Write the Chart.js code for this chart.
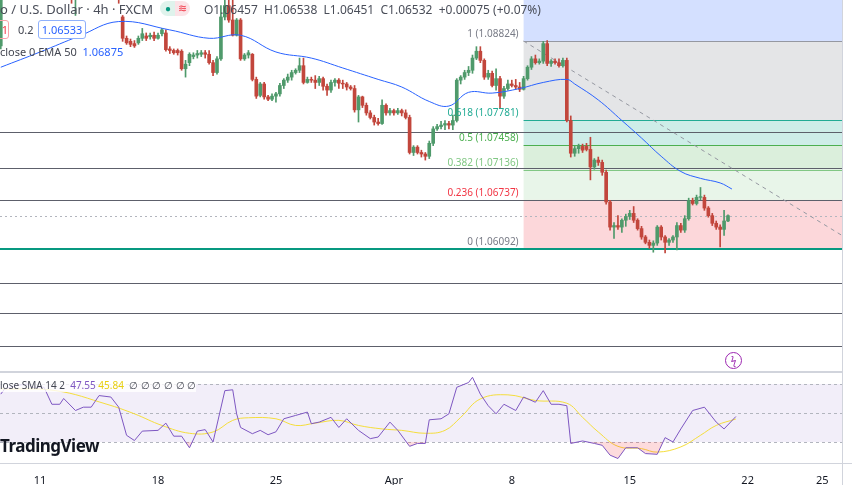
<!DOCTYPE html>
<html>
<head>
<meta charset="utf-8">
<script src="https://cdn.jsdelivr.net/npm/chart.js@4"></script>
<style>
  body { margin: 0; background: #fff; font-family: "Noto Sans", Roboto, sans-serif; }
  #wrap { position: relative; width: 852px; height: 485px; overflow: hidden; }
  .t { position: absolute; white-space: nowrap; font-size: 12px; color: #434651; }
</style>
</head>
<body>
<div id="wrap">
  <canvas id="chart" width="852" height="485"></canvas>
  <div class="t" style="left:0;top:0;font-size:13px;color:#4a4e59">o / U.S. Dollar · 4h · FXCM</div>
  <div class="t" style="left:160;top:1px;left:160px;width:30px;height:15px;border-radius:8px;background:linear-gradient(90deg,#dff3ec 50%,#fbe3e7 50%)"></div>
  <div class="t" style="left:165px;top:1px;color:#089981;font-size:10px">●</div>
  <div class="t" style="left:178px;top:0;color:#f23645;font-size:11px">≋</div>
  <div class="t" style="left:204px;top:1px;color:#4a4e59">O1.06457 &nbsp;H1.06538 &nbsp;L1.06451 &nbsp;C1.06532 &nbsp;+0.00075 (+0.07%)</div>
  <div class="t" style="left:-6px;top:20px;width:13px;height:17px;border:1px solid #f7a3a9;border-radius:3px;color:#f23645;text-align:right;font-size:11px;line-height:17px">1</div>
  <div class="t" style="left:18px;top:22px;font-size:11px">0.2</div>
  <div class="t" style="left:38px;top:20px;width:46px;height:17px;border:1px solid #8fb0fb;border-radius:3px;color:#2962ff;text-align:center;font-size:11px;line-height:17px;background:#fff">1.06533</div>
  <div class="t" style="left:0;top:44px;font-size:11px">close 0 EMA 50 &nbsp;<span style="color:#2962ff">1.06875</span></div>
  <div class="t" style="left:0;top:378px;font-size:10px;background:rgba(255,255,255,0.8)">lose SMA 14 2 &nbsp;<span style="color:#7e57c2">47.55</span> <span style="color:#e8cf10">45.84</span> &nbsp;∅ ∅ ∅ ∅ ∅ ∅</div>
  <div class="t" style="left:0;top:434px;font-size:17px;font-weight:bold;color:#131722;letter-spacing:-0.5px">TradingView</div>
  <div class="t" style="left:725px;top:352px;width:15px;height:15px;border:1.5px solid #9c27b0;border-radius:50%;color:#9c27b0;font-size:10px;text-align:center;line-height:15px">ϟ</div>
</div>
<script>
// 4h EUR/USD candles, index 0 = Mon 11 Mar 00:00, 30 candles per week
const firstIdx = -10;
const opens = [1.0876,1.0943,1.0962,1.0956,1.0969,1.0965,1.0975,1.0973,1.0982,1.0975,
  1.0969,1.0960,1.0965,1.0956,1.0949,1.0960,1.0954,1.0947,1.0952,1.0943,
  1.0949,1.0956,1.0962,1.0969,1.0965,1.0973,1.0968,1.0962,1.0956,1.0949,
  1.0940,1.0914,1.0886,1.0882,1.0879,1.0880,1.0886,1.0889,1.0888,1.0890,
  1.0886,1.0892,1.0893,1.0872,1.0870,1.0870,1.0869,1.0846,1.0854,1.0862,
  1.0864,1.0865,1.0867,1.0865,1.0854,1.0841,1.0859,1.0914,1.0929,1.0910,
  1.0890,1.0910,1.0859,1.0864,1.0865,1.0832,1.0811,1.0826,1.0809,1.0806,
  1.0810,1.0813,1.0824,1.0831,1.0835,1.0841,1.0844,1.0850,1.0828,1.0832,
  1.0831,1.0828,1.0833,1.0823,1.0818,1.0828,1.0831,1.0827,1.0826,1.0822,
  1.0820,1.0792,1.0809,1.0798,1.0788,1.0782,1.0776,1.0774,1.0798,1.0788,
  1.0791,1.0788,1.0791,1.0788,1.0782,1.0736,1.0743,1.0736,1.0734,1.0731,
  1.0748,1.0767,1.0770,1.0772,1.0774,1.0772,1.0778,1.0831,1.0835,1.0841,
  1.0844,1.0860,1.0869,1.0857,1.0835,1.0840,1.0824,1.0833,1.0810,1.0820,
  1.0826,1.0824,1.0822,1.0819,1.0833,1.0848,1.0859,1.0854,1.0856,1.0879,
  1.0853,1.0856,1.0854,1.0850,1.0857,1.0778,1.0735,1.0741,1.0744,1.0744,
  1.0740,1.0717,1.0726,1.0723,1.0710,1.0671,1.0638,1.0640,1.0638,1.0647,
  1.0652,1.0656,1.0647,1.0636,1.0625,1.0618,1.0614,1.0617,1.0638,1.0625,
  1.0618,1.0621,1.0625,1.0640,1.0634,1.0649,1.0673,1.0669,1.0677,1.0677,
  1.0663,1.0653,1.0643,1.0638,1.0635,1.0646];
const highs = [1.0949,1.0969,1.0973,1.0975,1.0978,1.0982,1.0986,1.0989,1.0991,1.0982,
  1.0975,1.0973,1.0970,1.0962,1.0965,1.0968,1.0960,1.0956,1.0957,1.0954,
  1.0962,1.0969,1.0975,1.0978,1.0982,1.0981,1.0975,1.0970,1.0962,1.0956,
  1.0944,1.0916,1.0889,1.0885,1.0883,1.0889,1.0899,1.0893,1.0893,1.0894,
  1.0893,1.0899,1.0897,1.0875,1.0872,1.0872,1.0871,1.0857,1.0867,1.0867,
  1.0870,1.0870,1.0870,1.0870,1.0857,1.0862,1.0929,1.0943,1.0947,1.0936,
  1.0912,1.0912,1.0866,1.0870,1.0866,1.0835,1.0828,1.0828,1.0811,1.0813,
  1.0815,1.0827,1.0833,1.0839,1.0844,1.0846,1.0860,1.0860,1.0835,1.0835,
  1.0837,1.0836,1.0835,1.0826,1.0831,1.0833,1.0833,1.0831,1.0828,1.0824,
  1.0824,1.0811,1.0810,1.0801,1.0791,1.0785,1.0781,1.0805,1.0800,1.0794,
  1.0793,1.0794,1.0793,1.0792,1.0785,1.0745,1.0745,1.0739,1.0736,1.0751,
  1.0770,1.0773,1.0777,1.0778,1.0777,1.0785,1.0833,1.0837,1.0844,1.0849,
  1.0864,1.0875,1.0875,1.0859,1.0844,1.0843,1.0846,1.0836,1.0823,1.0831,
  1.0831,1.0832,1.0828,1.0836,1.0850,1.0862,1.0864,1.0859,1.0882,1.0883,
  1.0858,1.0859,1.0859,1.0860,1.0860,1.0784,1.0744,1.0747,1.0747,1.0748,
  1.0756,1.0728,1.0730,1.0726,1.0713,1.0673,1.0644,1.0653,1.0649,1.0655,
  1.0660,1.0665,1.0649,1.0639,1.0627,1.0621,1.0620,1.0640,1.0640,1.0627,
  1.0623,1.0627,1.0644,1.0643,1.0653,1.0676,1.0676,1.0680,1.0690,1.0680,
  1.0665,1.0656,1.0646,1.0641,1.0660,1.0654];
const lows = [1.0872,1.0939,1.0949,1.0949,1.0956,1.0960,1.0965,1.0969,1.0969,1.0962,
  1.0949,1.0952,1.0947,1.0941,1.0940,1.0947,1.0939,1.0937,1.0932,1.0916,
  1.0939,1.0947,1.0952,1.0956,1.0957,1.0960,1.0952,1.0947,1.0941,1.0939,
  1.0932,1.0882,1.0878,1.0875,1.0874,1.0878,1.0883,1.0883,1.0885,1.0883,
  1.0885,1.0889,1.0869,1.0866,1.0865,1.0864,1.0844,1.0835,1.0850,1.0859,
  1.0860,1.0862,1.0860,1.0852,1.0837,1.0839,1.0857,1.0910,1.0907,1.0889,
  1.0889,1.0857,1.0857,1.0860,1.0830,1.0807,1.0809,1.0806,1.0804,1.0804,
  1.0802,1.0810,1.0820,1.0828,1.0831,1.0839,1.0841,1.0826,1.0827,1.0828,
  1.0820,1.0824,1.0818,1.0811,1.0815,1.0823,1.0820,1.0820,1.0818,1.0818,
  1.0789,1.0776,1.0795,1.0785,1.0780,1.0772,1.0772,1.0773,1.0785,1.0785,
  1.0785,1.0786,1.0784,1.0780,1.0734,1.0732,1.0734,1.0730,1.0726,1.0728,
  1.0745,1.0765,1.0767,1.0766,1.0767,1.0766,1.0776,1.0826,1.0832,1.0837,
  1.0840,1.0858,1.0854,1.0832,1.0832,1.0822,1.0818,1.0794,1.0807,1.0818,
  1.0822,1.0819,1.0816,1.0818,1.0831,1.0845,1.0852,1.0852,1.0853,1.0850,
  1.0849,1.0852,1.0848,1.0848,1.0776,1.0730,1.0731,1.0735,1.0736,1.0738,
  1.0700,1.0714,1.0719,1.0706,1.0668,1.0634,1.0623,1.0635,1.0631,1.0639,
  1.0648,1.0644,1.0634,1.0622,1.0616,1.0610,1.0605,1.0614,1.0621,1.0604,
  1.0614,1.0618,1.0608,1.0631,1.0631,1.0647,1.0667,1.0667,1.0674,1.0660,
  1.0651,1.0640,1.0635,1.0612,1.0627,1.0645];
const closes = [1.0943,1.0962,1.0956,1.0969,1.0965,1.0975,1.0973,1.0982,1.0975,1.0969,
  1.0960,1.0965,1.0956,1.0949,1.0960,1.0954,1.0947,1.0952,1.0943,1.0949,
  1.0956,1.0962,1.0969,1.0965,1.0973,1.0968,1.0962,1.0956,1.0949,1.0947,
  1.0937,1.0886,1.0880,1.0878,1.0876,1.0886,1.0892,1.0886,1.0890,1.0886,
  1.0890,1.0897,1.0871,1.0870,1.0867,1.0867,1.0846,1.0852,1.0865,1.0864,
  1.0866,1.0867,1.0865,1.0854,1.0841,1.0859,1.0914,1.0929,1.0910,1.0890,
  1.0910,1.0859,1.0864,1.0867,1.0832,1.0810,1.0826,1.0809,1.0806,1.0810,
  1.0813,1.0824,1.0831,1.0835,1.0841,1.0844,1.0850,1.0828,1.0832,1.0831,
  1.0828,1.0833,1.0823,1.0818,1.0828,1.0831,1.0827,1.0826,1.0822,1.0820,
  1.0792,1.0809,1.0798,1.0788,1.0782,1.0776,1.0774,1.0798,1.0788,1.0791,
  1.0788,1.0791,1.0788,1.0782,1.0736,1.0743,1.0736,1.0734,1.0731,1.0748,
  1.0767,1.0770,1.0772,1.0774,1.0772,1.0778,1.0831,1.0835,1.0841,1.0844,
  1.0860,1.0869,1.0857,1.0835,1.0840,1.0824,1.0833,1.0810,1.0820,1.0826,
  1.0824,1.0822,1.0819,1.0833,1.0848,1.0859,1.0854,1.0856,1.0879,1.0853,
  1.0856,1.0854,1.0850,1.0857,1.0778,1.0735,1.0741,1.0744,1.0739,1.0740,
  1.0717,1.0726,1.0723,1.0710,1.0671,1.0638,1.0640,1.0638,1.0647,1.0652,
  1.0656,1.0647,1.0636,1.0625,1.0618,1.0614,1.0617,1.0638,1.0625,1.0618,
  1.0621,1.0625,1.0640,1.0634,1.0649,1.0673,1.0669,1.0677,1.0678,1.0663,
  1.0653,1.0643,1.0638,1.0635,1.0646,1.0653];

const emaIdx = [-10, 0, 10, 20, 33, 43, 51, 60, 69, 77, 86, 92, 99, 104, 109, 115, 122, 128, 134, 136, 142, 148, 153, 158, 163, 168, 173, 176];
const emaVals = [1.0848, 1.0868, 1.0889, 1.0908, 1.0897, 1.0886, 1.0890, 1.0868, 1.0860, 1.0847, 1.0832, 1.0822, 1.0803, 1.0797, 1.0815, 1.0814, 1.0820, 1.0828, 1.0832, 1.0826, 1.0805, 1.0778, 1.0755, 1.0731, 1.0711, 1.0702, 1.0696, 1.0688];

const rsiIdx = [-10,-9,-6,-3,-2,1,3,5,6,9,11,13,15,18,20,22,24,26,30,32,34,36,38,40,42,44,47,49,50,51,54,56,58,60,62,65,68,69,71,74,76,78,81,84,86,89,91,94,96,98,99,102,104,106,109,110,112,114,116,118,121,123,126,128,130,132,134,135,138,141,143,145,147,149,152,154,157,159,161,163,166,169,172,174,177];
const rsiVals = [63,66.6,69,70,67.7,67.7,56,56,60,51.7,54,54,62,61,54,34.6,31,37.5,38,43,34,34,26,37.5,38.5,30,65.4,66,49.4,40,35.7,38,35,37,46,48.3,50.6,42.6,43.7,47,40,46,38,32.3,33.4,43.7,38,27,29,29,45.3,46,49.4,67.7,71,74.6,63,55,49.4,56,51.7,61,57.4,65.4,56,56,55,29,30.7,29,27.7,20.9,18.6,26,26,22,21.5,33,30,39,51.7,54,43.7,39,47.55];
const smaIdx = [-10, 4, 17, 24, 31, 38, 44, 49, 53, 60, 65, 70, 76, 81, 87, 92, 98, 103, 107, 112, 119, 126, 134, 138, 142, 147, 153, 157, 163, 168, 172, 177];
const smaVals = [66.6, 65.4, 56, 49.4, 41.4, 36, 36.9, 44.9, 46.7, 46, 41.4, 43, 44.9, 41.4, 39, 38, 36, 38, 47, 59.7, 62.5, 58.6, 56.7, 47, 36.9, 27, 25.4, 23, 26.6, 34.6, 41.4, 45.84];

const tickIdx = [0, 30, 60, 90, 120, 150, 180, 199];
const tickLabels = ['11', '18', '25', 'Apr', '8', '15', '22', '25'];

const fibStartIdx = 123;
const fibRatios = ['1', '0.618', '0.5', '0.382', '0.236', '0'];
const fibPrices = [1.08824, 1.07781, 1.07458, 1.07136, 1.06737, 1.06092];
const trendIdx = [123, 204];
const trendVals = [1.08824, 1.0627];
const hLevels = [1.0763, 1.0716, 1.0673, 1.0565, 1.0525, 1.0482];
const lastPrice = 1.0653;

const UP = '#4f9a6b', DOWN = '#c2463c';
const candleCol = closes.map((c, i) => (c >= opens[i] ? UP : DOWN));
const bodies = opens.map((o, i) => ({ x: firstIdx + i, y: [o, closes[i] === o ? o + 0.00003 : closes[i]] }));
const wicks = lows.map((l, i) => ({ x: firstIdx + i, y: [l, highs[i]] }));

const fibLine = ['#9598a1', '#22ab94', '#4caf50', '#81c784', '#f23645', '#089981'];
const fibFill = ['rgba(120,123,134,0.2)', 'rgba(34,171,148,0.22)', 'rgba(76,175,80,0.2)', 'rgba(129,199,132,0.18)', 'rgba(242,54,69,0.2)'];
const fibText = ['#787b86', '#22ab94', '#4caf50', '#81c784', '#f23645', '#787b86'];

const panes = {
  id: 'panes',
  beforeDatasetsDraw(chart) {
    const { ctx, chartArea: a, scales } = chart;
    const x = scales.x, y = scales.y, r = scales.yRsi;
    const sep = r.getPixelForValue(78.3);
    ctx.save();
    // fib zones
    const xs = x.getPixelForValue(fibStartIdx);
    ctx.fillStyle = 'rgba(41,98,255,0.2)';
    ctx.fillRect(xs, a.top, a.right - xs, y.getPixelForValue(fibPrices[0]) - a.top);
    for (let i = 0; i < fibFill.length; i++) {
      const y0 = y.getPixelForValue(fibPrices[i]), y1 = y.getPixelForValue(fibPrices[i + 1]);
      ctx.fillStyle = fibFill[i];
      ctx.fillRect(xs, y0, a.right - xs, y1 - y0);
    }
    fibPrices.forEach((p, i) => {
      const py = Math.round(y.getPixelForValue(p)) + 0.5;
      ctx.strokeStyle = fibLine[i];
      ctx.lineWidth = 1;
      ctx.beginPath(); ctx.moveTo(xs, py); ctx.lineTo(a.right, py); ctx.stroke();
    });
    // horizontal levels
    ctx.strokeStyle = '#5d606b';
    hLevels.forEach(p => {
      const py = Math.round(y.getPixelForValue(p)) + 0.5;
      ctx.beginPath(); ctx.moveTo(a.left, py); ctx.lineTo(a.right, py); ctx.stroke();
    });
    ctx.strokeStyle = '#089981'; ctx.lineWidth = 2;
    const p0 = y.getPixelForValue(fibPrices[5]);
    ctx.beginPath(); ctx.moveTo(a.left, p0); ctx.lineTo(a.right, p0); ctx.stroke();
    ctx.lineWidth = 1; ctx.setLineDash([2, 3]); ctx.strokeStyle = '#b2b5be';
    const lp = Math.round(y.getPixelForValue(lastPrice)) + 0.5;
    ctx.beginPath(); ctx.moveTo(a.left, lp); ctx.lineTo(a.right, lp); ctx.stroke();
    // rsi pane
    ctx.setLineDash([]);
    ctx.fillStyle = '#fff';
    ctx.fillRect(a.left, sep, a.right - a.left, a.bottom - sep);
    ctx.fillStyle = 'rgba(126,87,194,0.1)';
    const r70 = r.getPixelForValue(70), r30 = r.getPixelForValue(30);
    ctx.fillRect(a.left, r70, a.right - a.left, r30 - r70);
    ctx.strokeStyle = '#b2b5be'; ctx.setLineDash([3, 3]);
    [70, 50, 30].forEach(v => {
      const py = Math.round(r.getPixelForValue(v)) + 0.5;
      ctx.beginPath(); ctx.moveTo(a.left, py); ctx.lineTo(a.right, py); ctx.stroke();
    });
    ctx.setLineDash([]); ctx.strokeStyle = '#d1d4dc'; ctx.lineWidth = 2;
    ctx.beginPath(); ctx.moveTo(a.left, sep); ctx.lineTo(a.right, sep); ctx.stroke();
    ctx.lineWidth = 1;
    ctx.beginPath(); ctx.moveTo(a.left, a.bottom + 0.5); ctx.lineTo(852, a.bottom + 0.5);
    ctx.moveTo(a.right + 0.5, 0); ctx.lineTo(a.right + 0.5, 485); ctx.stroke();
    ctx.restore();
  },
  afterDatasetsDraw(chart) {
    const { ctx, scales } = chart;
    const xs = chart.scales.x.getPixelForValue(fibStartIdx);
    ctx.save();
    ctx.font = '10px "Noto Sans", sans-serif';
    ctx.textAlign = 'right';
    fibPrices.forEach((p, i) => {
      ctx.fillStyle = fibText[i];
      ctx.fillText(fibRatios[i] + ' (' + p.toFixed(5) + ')', xs - 5, scales.y.getPixelForValue(p) - 4);
    });
    ctx.restore();
  }
};

new Chart(document.getElementById('chart').getContext('2d'), {
  type: 'bar',
  data: {
    datasets: [
      { type: 'line', data: trendIdx.map((v, i) => ({ x: v, y: trendVals[i] })), borderColor: '#9598a1', borderWidth: 1, borderDash: [4, 4], pointRadius: 0, yAxisID: 'y', order: 5 },
      { data: wicks, backgroundColor: candleCol, barThickness: 1, yAxisID: 'y', grouped: false, order: 4 },
      { data: bodies, backgroundColor: candleCol, barThickness: 3, yAxisID: 'y', grouped: false, order: 3 },
      { type: 'line', data: emaIdx.map((v, i) => ({ x: v, y: emaVals[i] })), borderColor: '#2962ff', borderWidth: 1, pointRadius: 0, tension: 0.4, yAxisID: 'y', order: 2 },
      { type: 'line', data: smaIdx.map((v, i) => ({ x: v, y: smaVals[i] })), borderColor: '#f5de3c', borderWidth: 1, pointRadius: 0, tension: 0.4, yAxisID: 'yRsi', order: 1 },
      { type: 'line', data: rsiIdx.map((v, i) => ({ x: v, y: rsiVals[i] })), borderColor: '#7e57c2', borderWidth: 1, pointRadius: 0, yAxisID: 'yRsi', order: 0,
        fill: { target: { value: 30 }, above: 'rgba(0,0,0,0)', below: 'rgba(242,54,69,0.18)' } }
    ]
  },
  plugins: [panes],
  options: {
    responsive: false,
    animation: false,
    layout: { padding: { left: 0, right: 10, top: 0, bottom: 0 } },
    plugins: { legend: { display: false }, tooltip: { enabled: false } },
    scales: {
      x: {
        type: 'linear', min: -10.2, max: 204, offset: false,
        grid: { display: false }, border: { display: false },
        afterBuildTicks: s => { s.ticks = tickIdx.map(v => ({ value: v })); },
        afterFit: s => { s.height = 22; },
        ticks: { autoSkip: false, maxRotation: 0, color: '#131722', font: { size: 11, family: 'Noto Sans' }, padding: 3,
          callback: v => tickLabels[tickIdx.indexOf(v)] }
      },
      y: { display: false, min: 1.03281, max: 1.09363 },
      yRsi: { display: false, min: 15.5, max: 334.8 }
    }
  }
});
</script>
</body>
</html>
